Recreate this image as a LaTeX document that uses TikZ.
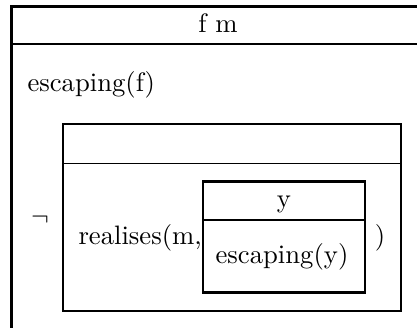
\documentclass[tikz,border=0pt]{standalone}
\begin{document}
\begin{tikzpicture}[x=0.375pt,y=-0.375pt,
  frame/.style={line width=0.95pt},
  sep/.style={line width=0.75pt},
  thinsep/.style={line width=0.45pt},
  lbl/.style={inner sep=0pt,anchor=base,font=\normalsize}]
\useasboundingbox (0,0) rectangle (417,327);
\clip (0,0) rectangle (417,327);
% outer box (cropped on right and bottom)
\draw[frame] (11.5,6.5) rectangle (440,350);
\draw[sep] (11.5,44) -- (440,44);
\node[lbl] (fm) at (218,32) {f m};
\node[lbl,anchor=base west] (escf) at (27,91) {escaping(f)};
\node[lbl] (neg) at (40,225) {$\neg$};
% inner box
\draw[frame] (63,124) rectangle (401,311);
\draw[thinsep] (63,163.5) -- (401,163.5);
\node[lbl,anchor=base west] (real) at (78,244) {realises(m,};
% y box
\draw[frame] (203,181.5) rectangle (365,292.5);
\draw[sep] (203,219.5) -- (365,219.5);
\node[lbl] (yv) at (284,207) {y};
\node[lbl] (escy) at (282,263) {escaping(y)};
\node[lbl] (rp) at (380,244) {)};
\end{tikzpicture}
\end{document}
